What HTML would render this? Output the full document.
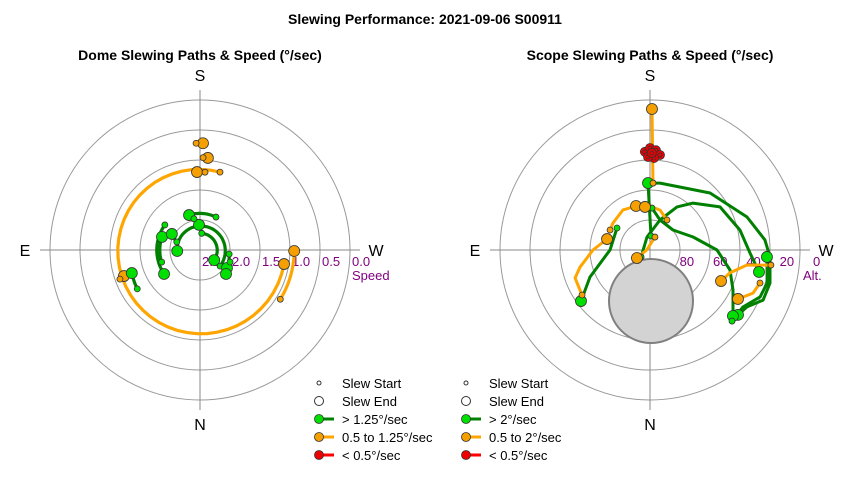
<!DOCTYPE html>
<html><head><meta charset="utf-8">
<style>
body{margin:0;background:#fff;width:850px;height:480px;overflow:hidden;font-family:"Liberation Sans",Arial,sans-serif;}
svg text{font-family:"Liberation Sans",Arial,sans-serif;}
</style></head>
<body>
<svg id="chart" width="850" height="480" viewBox="0 0 850 480" xmlns="http://www.w3.org/2000/svg">
<text x="425" y="24" text-anchor="middle" font-size="14" font-weight="bold">Slewing Performance: 2021-09-06 S00911</text>
<text x="200" y="60" text-anchor="middle" font-size="14" font-weight="bold">Dome Slewing Paths &amp; Speed (°/sec)</text>
<text x="650" y="60" text-anchor="middle" font-size="14" font-weight="bold">Scope Slewing Paths &amp; Speed (°/sec)</text>
<g id="dome"></g>
<g id="scope"></g>
<g id="legends"></g>
</svg>
<script>
// ---- Dome data (azimuth deg, speed deg/sec) ----
const domeAzStart = [194.4, -58.5, 177.9, 181.9, 183.7, 70, 58.2, 205.9, -51.3, -174, 169, 125.5, 72.5, 109.2, -82, -68.2];
const domeSpdStart = [1.16, 0.93, 0.72, 0.96, 1.2, 1.08, 1.27, 1.89, 2.07, 2.22, 1.97, 1.78, 1.83, 2.09, 2.01, 1.96];
const domeAzEnd = [-80.5, -89.4, 181.6, 184.9, 177.8, 71.1, 71.3, 162.6, -272.5, -54.5, 177.7, 56.3, 109, 119.7, -56.3, -47.3];
const domeSpdEnd = [1.08, 0.93, 0.72, 0.96, 1.2, 1.16, 1.30, 1.89, 2.12, 2.21, 2.08, 1.78, 1.83, 1.96, 1.96, 1.91];
const domeClass = ["mid","mid","mid","mid","mid","mid","fast","fast","fast","fast","fast","fast","fast","fast","fast","fast"];
const domeTicks = ["2.5","2.0","1.5","1.0","0.5","0.0"];
const domeTickVals = [2.5,2.0,1.5,1.0,0.5,0.0];

// ---- Scope data (azimuth deg, altitude deg) ----
const scopeAz = [
 [182.6,188.5,226.5,251.2,265,273.3,285.4,293.9,300.4,306.4],
 [184,178.3],
 [52.1,167,198.4,212.1,222.5,238.4,257.5,271.7,281.4],
 [182.7,198.4,229,253.2,270,284,295.7,308.5],
 [123.7,90,65.8,53.5],
 [310.9,301.5,293.1,285.8,273.4],
 [182.6,180.8],
 [56.5,69.5,76.3,90,104.3],
 [116.6,126.1,146,162.4],
 [209.5,194,176.2,173.4],
 [201,90,58.4],
 [277.1,278.8,286,293.6],
 [286.7,292.7,299.1]
];
const scopeAlt = [
 [49.8,49.4,40.3,28.5,20.8,17.9,15.3,15.8,22.5,24.4],
 [81.6,49.8],
 [83.2,82,71,59.5,51.8,40.7,34.7,30,23.3],
 [64.8,71,71.7,63,49.8,40.5,34.7,26.4],
 [66.2,66,50.5,38.5],
 [24.9,24.6,18.2,17,19.7],
 [49.8,5.4],
 [41.1,42,46.8,55.8,63.4],
 [63.2,62.5,61,62.3],
 [69.3,65.3,62.9,64],
 [81.7,88,80.8],
 [16.9,31.1,40.1,43.5],
 [21.1,23,29.6]
];
const scopeClass = ["fast","fast","fast","fast","fast","fast","mid","mid","mid","mid","mid","mid","mid"];
const slowAz = [177,180,183.4,186,182.5,178.8,181];
const slowAlt = [31,28.8,30,32.7,34.8,34.2,31.8];
const scopeTicks = ["80","60","40","20","0"];
const scopeTickVals = [80,60,40,20,0];

const NS="http://www.w3.org/2000/svg";
const LINE={fast:"#008000",mid:"#ffa500",slow:"#ff0000"};
const FILL={fast:"#00e000",mid:"#f5a000",slow:"#ee0000"};
function mk(parent,tag,attrs){const e=document.createElementNS(NS,tag);for(const k in attrs)e.setAttribute(k,attrs[k]);parent.appendChild(e);return e;}

function frame(g,cx,cy,name){
  [30,60,90,120,150].forEach(r=>{
    const c=mk(g,"circle",{cx:cx,cy:cy,r:r,fill:"none",stroke:"#999","stroke-width":1});
    
    
  });
  const h=mk(g,"line",{x1:cx-160,y1:cy,x2:cx+160,y2:cy,stroke:"#888","stroke-width":1});
  
  
  const v=mk(g,"line",{x1:cx,y1:cy-160,x2:cx,y2:cy+160,stroke:"#888","stroke-width":1});
  
  
  [["S",cx,cy-169],["N",cx,cy+180],["E",cx-175,cy+6],["W",cx+176,cy+6]].forEach(d=>{
    const t=mk(g,"text",{x:d[1],y:d[2],"text-anchor":"middle","font-size":16});
    t.textContent=d[0];
    
    
  });
}
function pt(cx,cy,az,r){const a=az*Math.PI/180;return [cx-r*Math.sin(a),cy+r*Math.cos(a)];}
function dot(g,x,y,r,cls,name){
  const c=mk(g,"circle",{cx:x,cy:y,r:r,fill:FILL[cls],stroke:"#333","stroke-width":0.8});
  
  
}

// ---- Dome ----
(function(){
  const g=document.getElementById("dome"),cx=200,cy=250;
  frame(g,cx,cy,"dome");
  const sr=s=>(2.5-s)*60;
  domeTicks.forEach((lab,i)=>{
    const t=mk(g,"text",{x:cx+sr(domeTickVals[i])+2,y:cy+16,"font-size":13,fill:"#800080"});
    t.textContent=lab;
    
    
  });
  const sp=mk(g,"text",{x:352,y:280,"font-size":13,fill:"#800080"});sp.textContent="Speed";
  
  
  for(let i=0;i<domeAzStart.length;i++){
    const n=40;let d="";
    for(let k=0;k<=n;k++){const f=k/n;const az=domeAzStart[i]+(domeAzEnd[i]-domeAzStart[i])*f;const s=domeSpdStart[i]+(domeSpdEnd[i]-domeSpdStart[i])*f;const p=pt(cx,cy,az,sr(s));d+=(k?"L":"M")+p[0].toFixed(1)+","+p[1].toFixed(1);}
    const path=mk(g,"path",{d:d,fill:"none",stroke:LINE[domeClass[i]],"stroke-width":3.2,"stroke-linecap":"round"});
    
    
  }
  for(let i=0;i<domeAzStart.length;i++){
    const e=pt(cx,cy,domeAzEnd[i],sr(domeSpdEnd[i]));dot(g,e[0],e[1],5.5,domeClass[i],"dome-slew-end");
    const s=pt(cx,cy,domeAzStart[i],sr(domeSpdStart[i]));dot(g,s[0],s[1],3,domeClass[i],"dome-slew-start");
  }
})();

// ---- Scope ----
(function(){
  const g=document.getElementById("scope"),cx=650,cy=250;
  frame(g,cx,cy,"scope");
  const ar=a=>(90-a)*150/90;
  const hz=mk(g,"circle",{cx:651,cy:301,r:42,fill:"#d3d3d3",stroke:"#808080","stroke-width":2});
  
  
  scopeTicks.forEach((lab,i)=>{
    const t=mk(g,"text",{x:cx+ar(scopeTickVals[i])+13,y:cy+16,"font-size":13,fill:"#800080"});
    t.textContent=lab;
    
    
  });
  const al=mk(g,"text",{x:803,y:280,"font-size":13,fill:"#800080"});al.textContent="Alt.";
  
  
  for(let i=0;i<scopeAz.length;i++){
    let d="";
    scopeAz[i].forEach((az,k)=>{const p=pt(cx,cy,az,ar(scopeAlt[i][k]));d+=(k?"L":"M")+p[0].toFixed(1)+","+p[1].toFixed(1);});
    const path=mk(g,"path",{d:d,fill:"none",stroke:LINE[scopeClass[i]],"stroke-width":3,"stroke-linejoin":"round","stroke-linecap":"round"});
    
    
  }
  for(let i=0;i<scopeAz.length;i++){
    const L=scopeAz[i].length-1;
    const e=pt(cx,cy,scopeAz[i][L],ar(scopeAlt[i][L]));dot(g,e[0],e[1],5.5,scopeClass[i],"scope-slew-end");
    const s=pt(cx,cy,scopeAz[i][0],ar(scopeAlt[i][0]));dot(g,s[0],s[1],3,scopeClass[i],"scope-slew-start");
  }
  for(let i=0;i<slowAz.length;i++){
    const p=pt(cx,cy,slowAz[i],ar(slowAlt[i]));dot(g,p[0],p[1],4.5,"slow","scope-slow-slew");
    dot(g,p[0],p[1],2,"slow","scope-slow-slew-start");
  }
})();

// ---- Legends ----
(function(){
  const g=document.getElementById("legends");
  const sets=[[319,["> 1.25°/sec","0.5 to 1.25°/sec","< 0.5°/sec"]],[466,["> 2°/sec","0.5 to 2°/sec","< 0.5°/sec"]]];
  const rows=[383,401,419,437,455];
  sets.forEach((s,si)=>{
    const x=s[0];
    const c1=mk(g,"circle",{cx:x,cy:rows[0],r:2,fill:"#fff",stroke:"#333","stroke-width":1});
    
    
    const c2=mk(g,"circle",{cx:x,cy:rows[1],r:4.5,fill:"#fff",stroke:"#333","stroke-width":1});
    
    
    ["fast","mid","slow"].forEach((cls,k)=>{
      const y=rows[k+2];
      const l=mk(g,"line",{x1:x,y1:y,x2:x+15,y2:y,stroke:LINE[cls],"stroke-width":3});
      
      
      dot(g,x,y,4.5,cls,"legend-marker-"+cls);
    });
    const labels=["Slew Start","Slew End"].concat(s[1]);
    labels.forEach((lab,k)=>{
      const t=mk(g,"text",{x:x+23,y:rows[k]+5,"font-size":13});
      t.textContent=lab;
      
      
    });
  });
})();
</script>
</body></html>
